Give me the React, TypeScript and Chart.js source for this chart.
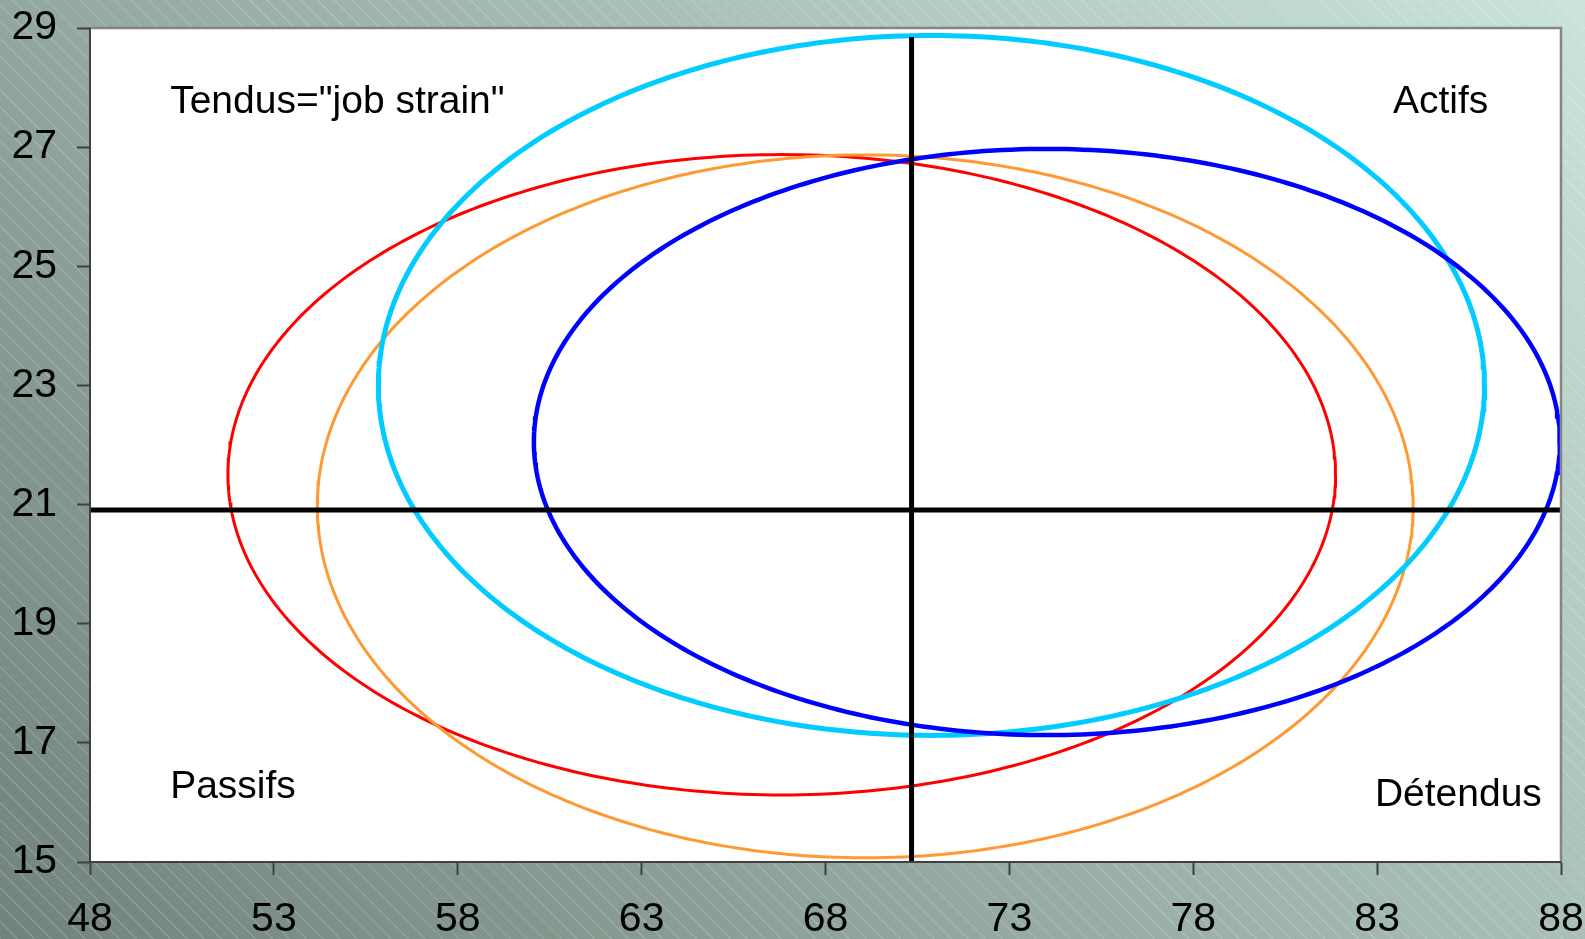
import React, { useEffect, useRef } from "react";
import { Chart, registerables } from "chart.js";

Chart.register(...registerables);

// Axis ranges / ticks
const X_MIN = 48;
const X_MAX = 88;
const X_STEP = 5;
const Y_MIN = 15;
const Y_MAX = 29;
const Y_STEP = 2;

// Ellipses (drawn from their centre and semi-axes)
const ellipseNames = ["Bleu", "Cyan", "Orange", "Rouge"];
const ellipseCenterX = [74.02, 70.88, 69.08, 66.81];
const ellipseCenterY = [22.05, 23.0, 20.97, 21.5];
const ellipseRadiusX = [13.95, 15.04, 14.9, 15.06];
const ellipseRadiusY = [4.92, 5.875, 5.9, 5.375];

// Cross lines (medians)
const verticalLineX = [70.34, 70.34];
const verticalLineY = [15, 28.85];
const horizontalLineX = [48, 88];
const horizontalLineY = [20.91, 20.91];

// Quadrant labels
const quadrantLabels = ['Tendus="job strain"', "Actifs", "Passifs", "Détendus"];
const quadrantLabelX = [50.18, 83.43, 50.18, 82.94];
const quadrantLabelY = [27.57, 27.57, 16.07, 15.94];

// Styles
const ellipseColors = ["#0000ff", "#00ccff", "#ff9933", "#ff0000"];
const ellipseWidths = [4.5, 5, 3, 3];
const FONT = "'Liberation Sans', Arial, sans-serif";
const TICK_FONT_SIZE = 41;
const LABEL_FONT_SIZE = 39;
const SEGMENTS = 360;

function ellipsePoints(i: number) {
  const pts: { x: number; y: number }[] = [];
  for (let k = 0; k <= SEGMENTS; k++) {
    const t = (k / SEGMENTS) * Math.PI * 2;
    pts.push({
      x: ellipseCenterX[i] + ellipseRadiusX[i] * Math.cos(t),
      y: ellipseCenterY[i] + ellipseRadiusY[i] * Math.sin(t),
    });
  }
  return pts;
}

const plotBackground = {
  id: "plotBackground",
  beforeDraw(chart: any) {
    const { ctx, chartArea } = chart;
    ctx.save();
    ctx.fillStyle = "#ffffff";
    ctx.fillRect(chartArea.left, chartArea.top, chartArea.right - chartArea.left, chartArea.bottom - chartArea.top);
    ctx.restore();
  },
};

const plotBorder = {
  id: "plotBorder",
  afterDatasetsDraw(chart: any) {
    const { ctx, chartArea } = chart;
    ctx.save();
    ctx.strokeStyle = "#858585";
    ctx.lineWidth = 2.5;
    ctx.beginPath();
    ctx.moveTo(chartArea.left, chartArea.top);
    ctx.lineTo(chartArea.right, chartArea.top);
    ctx.lineTo(chartArea.right, chartArea.bottom);
    ctx.stroke();
    ctx.strokeStyle = "#404040";
    ctx.lineWidth = 2;
    ctx.beginPath();
    ctx.moveTo(chartArea.left, chartArea.top);
    ctx.lineTo(chartArea.left, chartArea.bottom);
    ctx.lineTo(chartArea.right, chartArea.bottom);
    ctx.stroke();
    ctx.restore();
  },
};

const quadrantText = {
  id: "quadrantText",
  afterDraw(chart: any) {
    const { ctx } = chart;
    const xs = chart.scales.x;
    const ys = chart.scales.y;
    ctx.save();
    ctx.fillStyle = "#000000";
    ctx.font = `${LABEL_FONT_SIZE}px ${FONT}`;
    ctx.textAlign = "left";
    ctx.textBaseline = "alphabetic";
    quadrantLabels.forEach((label, i) => {
      ctx.fillText(label, xs.getPixelForValue(quadrantLabelX[i]), ys.getPixelForValue(quadrantLabelY[i]));
    });
    ctx.restore();
  },
};

export default function App() {
  const canvasRef = useRef<HTMLCanvasElement | null>(null);

  useEffect(() => {
    if (!canvasRef.current) return;
    const datasets: any[] = [
      {
        label: "Médiane verticale",
        data: verticalLineX.map((x, i) => ({ x, y: verticalLineY[i] })),
        borderColor: "#000000",
        borderWidth: 5,
      },
      {
        label: "Médiane horizontale",
        data: horizontalLineX.map((x, i) => ({ x, y: horizontalLineY[i] })),
        borderColor: "#000000",
        borderWidth: 5,
      },
      ...ellipseNames.map((name, i) => ({
        label: name,
        data: ellipsePoints(i),
        borderColor: ellipseColors[i],
        borderWidth: ellipseWidths[i],
      })),
    ].map((d) => ({
      ...d,
      showLine: true,
      fill: false,
      pointRadius: 0,
      pointHoverRadius: 0,
      tension: 0,
      borderCapStyle: "butt",
    }));

    const chart = new Chart(canvasRef.current, {
      type: "scatter",
      data: { datasets },
      options: {
        animation: false,
        responsive: false,
        events: [],
        layout: { padding: { top: 28, right: 24, left: 0, bottom: 0 } },
        plugins: {
          legend: { display: false },
          tooltip: { enabled: false },
        },
        scales: {
          x: {
            type: "linear",
            min: X_MIN,
            max: X_MAX,
            ticks: {
              stepSize: X_STEP,
              color: "#000000",
              font: { family: FONT, size: TICK_FONT_SIZE },
              padding: 20,
              maxRotation: 0,
              autoSkip: false,
            },
            grid: {
              display: true,
              drawOnChartArea: false,
              drawTicks: true,
              tickLength: 13,
              tickColor: "#404040",
              tickWidth: 2,
            },
            border: { display: true, color: "#404040", width: 2 },
            afterFit: (s: any) => {
              s.height = 77;
              s.paddingLeft = 0;
              s.paddingRight = 0;
            },
          },
          y: {
            type: "linear",
            min: Y_MIN,
            max: Y_MAX,
            ticks: {
              stepSize: Y_STEP,
              color: "#000000",
              font: { family: FONT, size: TICK_FONT_SIZE },
              padding: 20,
              autoSkip: false,
            },
            grid: {
              display: true,
              drawOnChartArea: false,
              drawTicks: true,
              tickLength: 13,
              tickColor: "#404040",
              tickWidth: 2,
            },
            border: { display: true, color: "#404040", width: 2 },
            afterFit: (s: any) => {
              s.width = 90;
              s.paddingTop = 0;
              s.paddingBottom = 0;
            },
          },
        },
      },
      plugins: [plotBackground, plotBorder, quadrantText],
    });
    return () => chart.destroy();
  }, []);

  return (
    <div
      style={{
        position: "absolute",
        left: 0,
        top: 0,
        width: 1585,
        height: 939,
        overflow: "hidden",
        background:
          "repeating-linear-gradient(45deg, rgba(255,255,255,0.16) 0px, rgba(255,255,255,0.16) 1px, rgba(255,255,255,0) 1.5px, rgba(255,255,255,0) 12px), linear-gradient(45deg, #71837a, #cae4da)",
      }}
    >
      <canvas ref={canvasRef} width={1585} height={939} style={{ display: "block" }} />
    </div>
  );
}
